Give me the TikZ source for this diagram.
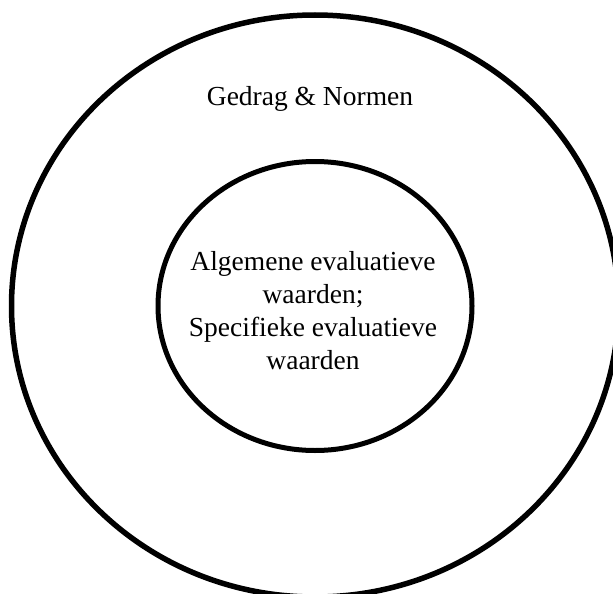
\documentclass[tikz,border=0pt]{standalone}
\usepackage{fontspec}
\setmainfont{Liberation Serif}
\usetikzlibrary{shapes.geometric}
\begin{document}
\begin{tikzpicture}[x=1pt,y=-1pt,
  ring/.style={ellipse,draw=black,inner sep=0pt,outer sep=0pt},
  lbl/.style={font=\fontsize{27.5}{33}\selectfont,align=center,inner sep=0pt,anchor=base}]
\useasboundingbox[fill=white] (0,0) rectangle (613,594);
\node[ring,line width=5.5pt,minimum width=607pt,minimum height=582pt] (outer) at (315,306) {};
\node[ring,line width=5pt,minimum width=314pt,minimum height=289pt] (inner) at (315,306) {};
\node[lbl] (gedrag) at (310,106) {Gedrag \& Normen};
\node[lbl] (waarden) at (313,369) {Algemene evaluatieve\\waarden;\\Specifieke evaluatieve\\waarden};
\end{tikzpicture}
\end{document}
